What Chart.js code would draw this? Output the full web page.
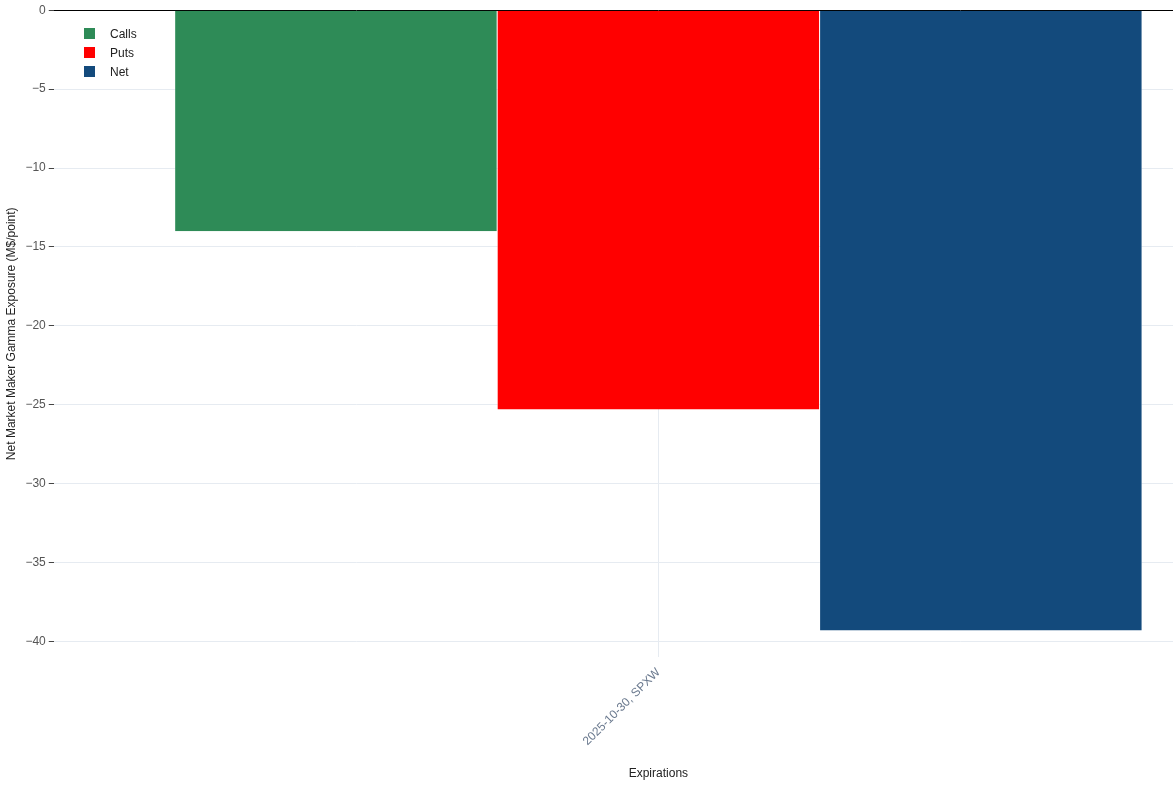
<!DOCTYPE html>
<html>
<head>
<meta charset="utf-8">
<script src="https://cdn.jsdelivr.net/npm/chart.js@4"></script>
<style>
  html, body { margin: 0; padding: 0; background: #fff; overflow: hidden; width: 1173px; height: 785px; }
  #wrap { position: absolute; left: 0; top: 0; width: 1263px; height: 785px; }
  #legend { position: absolute; left: 84px; top: 24px; font: 12px "Liberation Sans", Arial, sans-serif; color: #222; }
  #legend div { height: 19px; display: flex; align-items: center; }
  #legend span { display: inline-block; width: 11px; height: 11px; margin-right: 15px; }
</style>
</head>
<body>
<div id="wrap"><canvas id="chart" width="1263" height="785"></canvas></div>
<div id="legend"></div>
<script>
const categories = ['2025-10-30, SPXW'];
const seriesNames = ['Calls', 'Puts', 'Net'];
const seriesColors = ['#2e8b57', '#ff0000', '#134a7c'];
const callsValues = [-14.0];
const putsValues = [-25.3];
const netValues = [-39.3];
const yTicks = [0, -5, -10, -15, -20, -25, -30, -35, -40];

const seriesValues = [callsValues, putsValues, netValues];
const font = { family: '"Liberation Sans", Arial, sans-serif', size: 12 };

document.getElementById('legend').innerHTML = seriesNames
  .map((n, i) => `<div><span style="background:${seriesColors[i]}"></span>${n}</div>`).join('');

new Chart(document.getElementById('chart'), {
  type: 'bar',
  data: {
    labels: categories,
    datasets: seriesNames.map((name, i) => ({
      label: name,
      data: seriesValues[i],
      backgroundColor: seriesColors[i],
      borderColor: '#ffffff',
      borderWidth: { left: 0.5, right: 0.5 },
      borderSkipped: false,
      barPercentage: 1,
      categoryPercentage: 0.8,
    })),
  },
  options: {
    responsive: false,
    animation: false,
    layout: { padding: { top: 9 } },
    plugins: { legend: { display: false }, tooltip: { enabled: false } },
    scales: {
      x: {
        grid: { color: '#e6ebf1', offset: false, drawTicks: false },
        border: { display: false },
        ticks: { color: '#6b7a8f', font, maxRotation: 45, minRotation: 45, padding: 8 },
        title: { display: true, text: 'Expirations', color: '#222', font, padding: { top: 10 } },
      },
      y: {
        min: -41,
        max: 0,
        afterBuildTicks: (axis) => { axis.ticks = yTicks.map((v) => ({ value: v })); },
        grid: {
          color: (ctx) => (ctx.tick && ctx.tick.value === 0 ? '#000' : '#e6ebf1'),
          tickColor: '#444',
          tickLength: 5,
        },
        border: { display: false },
        ticks: { color: '#555', font, callback: (v) => (v < 0 ? '\u2212' + Math.abs(v) : String(v)) },
        title: { display: true, text: 'Net Market Maker Gamma Exposure (M$/point)', color: '#222', font },
      },
    },
  },
});
</script>
</body>
</html>
